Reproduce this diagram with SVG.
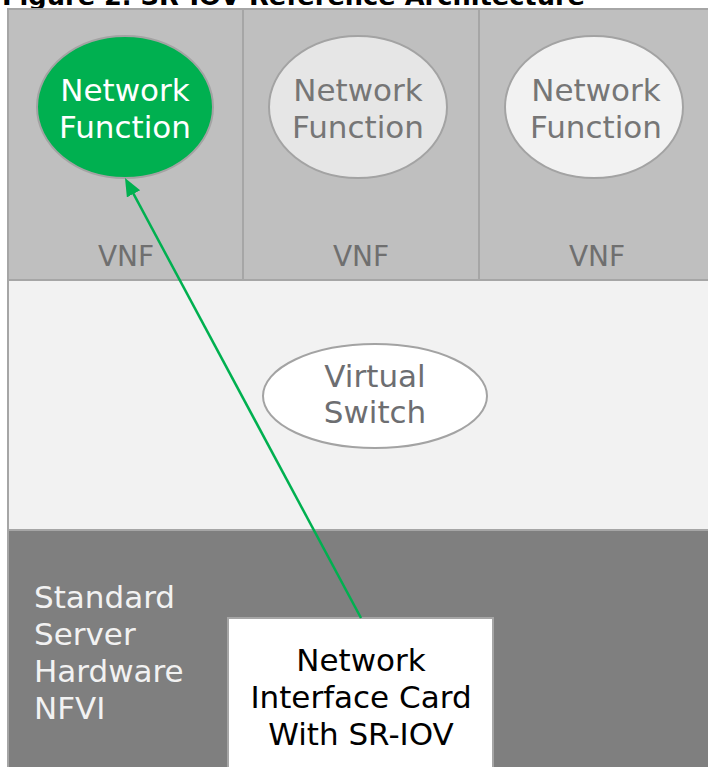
<svg xmlns="http://www.w3.org/2000/svg" width="708" height="767" viewBox="0 0 708 767">
<style>
text{font-family:"DejaVu Sans","Liberation Sans",sans-serif;}
.t{font-size:31px;text-anchor:middle;}
.band{stroke:#a6a6a6;stroke-width:2;}
.nf{stroke:#a3a3a3;stroke-width:2;}
.vnf{font-size:28px;fill:#6f6f6f;text-anchor:middle;}
.grey{fill:#767676;}
.left{font-size:31px;fill:#f2f2f2;}
</style>
<defs>
<marker id="ah" markerUnits="userSpaceOnUse" markerWidth="20" markerHeight="16" refX="7" refY="7.5" orient="auto">
<path d="M0,0 L18,7.5 L0,15 z" fill="#00b050"/>
</marker>
</defs>
<rect width="708" height="767" fill="#ffffff"/>
<text x="2" y="5" font-size="25" font-weight="bold" fill="#000" textLength="583" lengthAdjust="spacingAndGlyphs">Figure 2. SR-IOV Reference Architecture</text>

<g id="vnf-layer">
<rect class="band" x="8" y="9" width="710" height="271" fill="#bfbfbf"/>
<line x1="243" y1="9" x2="243" y2="280" stroke="#a6a6a6" stroke-width="2"/>
<line x1="479" y1="9" x2="479" y2="280" stroke="#a6a6a6" stroke-width="2"/>
</g>
<g id="vnf1">
<ellipse class="nf" cx="125" cy="107" rx="88" ry="71" fill="#00b050" stroke="#9a9a9a"/>
<text class="t" x="125" y="101" fill="#ffffff">Network</text>
<text class="t" x="125" y="138" fill="#ffffff">Function</text>
<text class="vnf" x="126" y="266">VNF</text>
</g>
<g id="vnf2">
<ellipse class="nf" cx="358" cy="107" rx="89" ry="71" fill="#e6e6e6"/>
<text class="t grey" x="358" y="101">Network</text>
<text class="t grey" x="358" y="138">Function</text>
<text class="vnf" x="361" y="266">VNF</text>
</g>
<g id="vnf3">
<ellipse class="nf" cx="594" cy="107" rx="89" ry="71" fill="#f2f2f2"/>
<text class="t grey" x="596" y="101">Network</text>
<text class="t grey" x="596" y="138">Function</text>
<text class="vnf" x="597" y="266">VNF</text>
</g>

<g id="vswitch-layer">
<rect class="band" x="8" y="280" width="710" height="250" fill="#f2f2f2"/>
</g>
<g id="vswitch">
<ellipse class="nf" cx="375" cy="396" rx="112" ry="52" fill="#ffffff"/>
<text class="t" x="375" y="387" fill="#6d6e71">Virtual</text>
<text class="t" x="375" y="423" fill="#6d6e71">Switch</text>
</g>

<g id="nfvi">
<rect class="band" x="8" y="530" width="710" height="250" fill="#7f7f7f"/>
<text class="left" x="34" y="608">Standard</text>
<text class="left" x="34" y="645">Server</text>
<text class="left" x="34" y="682">Hardware</text>
<text class="left" x="34" y="719">NFVI</text>
</g>
<g id="nic">
<rect x="228" y="618" width="265" height="160" fill="#ffffff" stroke="#a6a6a6" stroke-width="2"/>
<text class="t" x="361" y="671" fill="#000">Network</text>
<text class="t" x="361" y="708" fill="#000">Interface Card</text>
<text class="t" x="361" y="745" fill="#000">With SR-IOV</text>
</g>

<g id="connectors">
<path d="M361,618 L130.2,187.7" fill="none" stroke="#00b050" stroke-width="2.5" marker-end="url(#ah)"/>
</g>
</svg>
